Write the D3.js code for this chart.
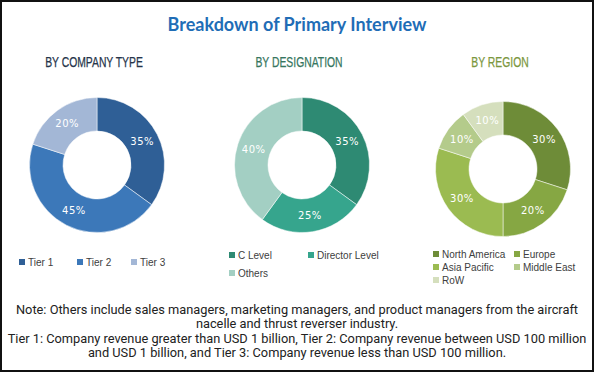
<!DOCTYPE html>
<html lang="en">
<head>
<meta charset="UTF-8">
<title>Breakdown of Primary Interview</title>
<script src="https://d3js.org/d3.v7.min.js"></script>
<style>
  body { margin: 0; background: #fff; }
  .pct { fill: #fff; font-family: "DejaVu Sans", sans-serif; font-size: 10px; letter-spacing: 0.5px; }
  .leg { fill: #404040; font-family: "Liberation Sans", Arial, sans-serif; font-size: 10px; }
  .sub { font-family: "Liberation Sans", Arial, sans-serif; font-size: 14px; }
  .note { fill: #222; font-family: Roboto, sans-serif; font-size: 12.8px; }
</style>
</head>
<body>
<svg width="595" height="373"></svg>
<script>
// data
const companyTypes = ["Tier 1", "Tier 2", "Tier 3"];
const companyValues = [35, 45, 20];
const companyColors = ["#2f5f96", "#3c78b9", "#a3b7d6"];

const designations = ["C Level", "Director Level", "Others"];
const designationValues = [35, 25, 40];
const designationColors = ["#2e8a73", "#36a58d", "#a3cfc3"];

const regions = ["North America", "Europe", "Asia Pacific", "Middle East", "RoW"];
const regionValues = [30, 20, 30, 10, 10];
const regionColors = ["#6e8c38", "#86a743", "#9bbb51", "#b4cb8b", "#d5dfbd"];

const noteLines = [
  "Note: Others include sales managers, marketing managers, and product managers from the aircraft",
  "nacelle and thrust reverser industry.",
  "Tier 1: Company revenue greater than USD 1 billion, Tier 2: Company revenue between USD 100 million",
  "and USD 1 billion, and Tier 3: Company revenue less than USD 100 million."
];

const svg = d3.select("svg");

// frame
svg.append("rect").attr("x", 1).attr("y", 1).attr("width", 592).attr("height", 370)
  .attr("fill", "none").attr("stroke", "#111").attr("stroke-width", 2);

svg.append("text").attr("x", 297).attr("y", 31).attr("text-anchor", "middle")
  .attr("fill", "#1f6db6").attr("font-family", "Lato, 'Open Sans', sans-serif")
  .attr("font-weight", "bold").attr("font-size", "18px")
  .text("Breakdown of Primary Interview");

const panels = [
  { title: "BY COMPANY TYPE", tColor: "#25344a", names: companyTypes, values: companyValues, colors: companyColors,
    cx: 97, cy: 165, legend: [[22, 262], [80, 262], [134, 262]] },
  { title: "BY DESIGNATION", tColor: "#367660", names: designations, values: designationValues, colors: designationColors,
    cx: 302, cy: 165, legend: [[232, 255], [311, 255], [232, 273]] },
  { title: "BY REGION", tColor: "#7b973e", names: regions, values: regionValues, colors: regionColors,
    cx: 503, cy: 169, legend: [[436, 254], [517, 254], [436, 267], [517, 267], [436, 280]] }
];

const pie = d3.pie().sort(null);
const arc = d3.arc().innerRadius(34).outerRadius(67.5);

panels.forEach(p => {
  // condensed heading look
  const t = svg.append("text").attr("class", "sub").attr("x", p.cx - 3).attr("y", 67)
    .attr("text-anchor", "middle").attr("fill", p.tColor)
    .attr("stroke", p.tColor).attr("stroke-width", 0.25).text(p.title);
  const w = t.node().getComputedTextLength();
  t.attr("textLength", w * 0.74).attr("lengthAdjust", "spacingAndGlyphs");

  const g = svg.append("g").attr("transform", `translate(${p.cx},${p.cy})`);
  const arcs = pie(p.values);
  g.selectAll("path").data(arcs).join("path")
    .attr("d", arc)
    .attr("fill", (d, i) => p.colors[i])
    .attr("stroke", "#fff").attr("stroke-width", 0.5);
  g.selectAll("text").data(arcs).join("text")
    .attr("class", "pct")
    .attr("transform", d => `translate(${arc.centroid(d)})`)
    .attr("text-anchor", "middle").attr("dy", "0.35em")
    .text(d => d.data + "%");

  const lg = svg.append("g");
  p.names.forEach((n, i) => {
    const [x, y] = p.legend[i];
    lg.append("rect").attr("x", x - 3).attr("y", y - 3).attr("width", 6).attr("height", 6)
      .attr("fill", p.colors[i]);
    lg.append("text").attr("class", "leg").attr("x", x + 6).attr("y", y).attr("dy", "0.35em").text(n);
  });
});

svg.append("g").selectAll("text").data(noteLines).join("text")
  .attr("class", "note").attr("x", 297).attr("y", (d, i) => 313.5 + i * 14.5)
  .attr("text-anchor", "middle").text(d => d);
</script>
</body>
</html>
